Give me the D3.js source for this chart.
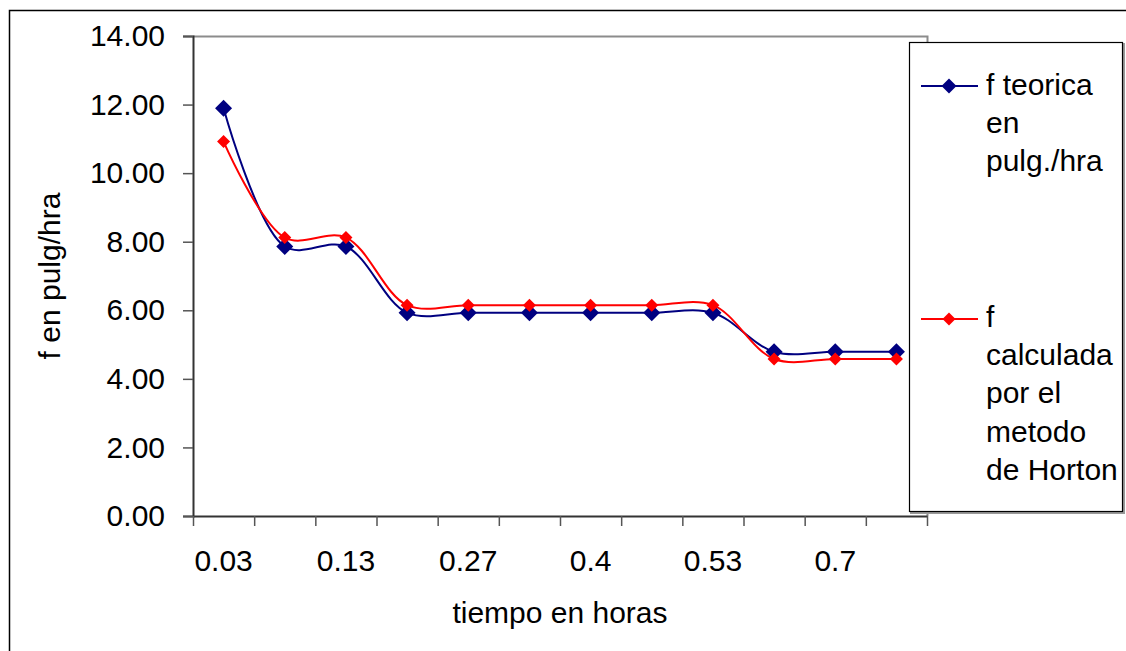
<!DOCTYPE html>
<html>
<head>
<meta charset="utf-8">
<script src="https://cdn.jsdelivr.net/npm/d3@7"></script>
<style>
  html, body { margin: 0; padding: 0; background: #fff; }
  svg { display: block; font-family: "Liberation Sans", Arial, sans-serif; }
</style>
</head>
<body>
<svg id="chart" width="1126" height="651"></svg>
<script>
// ---- data ----
const categories = ["0.03", "0.08", "0.13", "0.2", "0.27", "0.33", "0.4", "0.47", "0.53", "0.62", "0.7", "0.78"];
const fTeorica   = [11.89, 7.86, 7.86, 5.93, 5.93, 5.93, 5.93, 5.93, 5.93, 4.79, 4.79, 4.79];
const fHorton    = [10.92, 8.12, 8.12, 6.15, 6.15, 6.15, 6.15, 6.15, 6.15, 4.58, 4.58, 4.58];
const yTicks     = [0, 2, 4, 6, 8, 10, 12, 14];
const seriesNames = [["f teorica", "en", "pulg./hra"], ["f", "calculada", "por el", "metodo", "de Horton"]];
const xTitle = "tiempo en horas";
const yTitle = "f en pulg/hra";

// ---- layout ----
const svg = d3.select("#chart");
const pL = 193, pR = 927, pT = 36, pB = 516;
const FS = 30;

svg.append("rect").attr("x", 9.5).attr("y", 10.5).attr("width", 1200).attr("height", 700)
  .attr("fill", "#fff").attr("stroke", "#000").attr("stroke-width", 1.5);

const x = d3.scaleBand().domain(categories).range([pL, pR]).padding(0);
const xb = d3.scaleLinear().domain([0, categories.length]).range([pL, pR]);
const y = d3.scaleLinear().domain([0, 14]).range([pB, pT]);

// plot area border (top & right, gray)
svg.append("path").attr("d", `M${pL},${pT + 0.5}H${pR + 0.5}V${pB}`)
  .attr("fill", "none").attr("stroke", "#8c8c8c").attr("stroke-width", 2);

// y axis
const yAxis = svg.append("g").attr("transform", `translate(${pL},0)`)
  .call(d3.axisLeft(y).tickValues(yTicks).tickFormat(d3.format(".2f")).tickSize(10).tickPadding(18));
yAxis.select(".domain").attr("stroke", "#333").attr("stroke-width", 2);
yAxis.selectAll(".tick line").attr("stroke", "#555").attr("stroke-width", 1.5);
yAxis.selectAll("text").attr("font-size", FS).attr("fill", "#000").attr("font-family", "Liberation Sans, Arial, sans-serif");

// x axis: boundary ticks
const xAxisTicks = svg.append("g").attr("transform", `translate(0,${pB})`)
  .call(d3.axisBottom(xb).tickValues(d3.range(categories.length + 1)).tickFormat("").tickSize(10).tickSizeOuter(0));
xAxisTicks.select(".domain").attr("stroke", "#333").attr("stroke-width", 2);
xAxisTicks.selectAll(".tick line").attr("stroke", "#555").attr("stroke-width", 1.5);

// x labels at band centers (every other)
const xLab = svg.append("g").attr("transform", `translate(0,${pB})`)
  .call(d3.axisBottom(x).tickValues(categories.filter((d, i) => i % 2 === 0)).tickSize(0).tickPadding(0));
xLab.select(".domain").remove();
xLab.selectAll("text").attr("font-size", FS).attr("fill", "#000").attr("dy", null).attr("y", 55)
  .attr("font-family", "Liberation Sans, Arial, sans-serif");

// axis titles
svg.append("text").attr("x", (pL + pR) / 2).attr("y", 623).attr("text-anchor", "middle")
  .attr("font-size", FS).text(xTitle);
svg.append("text").attr("transform", `translate(60,${(pT + pB) / 2}) rotate(-90)`)
  .attr("text-anchor", "middle").attr("font-size", FS).text(yTitle);

// lines
const cx = (d, i) => x(categories[i]) + x.bandwidth() / 2;
const line = d3.line().x((d, i) => cx(d, i)).y(d => y(d)).curve(d3.curveCatmullRom.alpha(0.5));
const series = [
  { values: fTeorica, color: "#000080", size: 17 },
  { values: fHorton, color: "#ff0000", size: 13 }
];
const diamond = s => `M0,${-s / 2}L${s / 2},0L0,${s / 2}L${-s / 2},0Z`;

series.forEach(s => {
  svg.append("path").datum(s.values).attr("d", line)
    .attr("fill", "none").attr("stroke", s.color).attr("stroke-width", 2);
});
series.forEach(s => {
  svg.append("g").selectAll("path").data(s.values).join("path")
    .attr("transform", (d, i) => `translate(${cx(d, i)},${y(d)})`)
    .attr("d", diamond(s.size)).attr("fill", s.color);
});

// legend
const lg = svg.append("g");
lg.append("rect").attr("x", 910).attr("y", 43).attr("width", 213).attr("height", 469)
  .attr("fill", "none").attr("stroke", "#999").attr("stroke-width", 2).attr("transform", "translate(1,1)");
lg.append("rect").attr("x", 909.5).attr("y", 42.5).attr("width", 213).attr("height", 469)
  .attr("fill", "#fff").attr("stroke", "#000").attr("stroke-width", 1.2);
const legY = [86, 319];
const legBase = [95, 327];
series.forEach((s, k) => {
  lg.append("line").attr("x1", 921).attr("x2", 978).attr("y1", legY[k]).attr("y2", legY[k])
    .attr("stroke", s.color).attr("stroke-width", 2);
  lg.append("path").attr("transform", `translate(949,${legY[k]})`)
    .attr("d", diamond(k === 0 ? 15 : 13)).attr("fill", s.color);
  const t = lg.append("text").attr("x", 986).attr("y", legBase[k]).attr("font-size", FS);
  seriesNames[k].forEach((ln, j) => {
    t.append("tspan").attr("x", 986).attr("dy", j === 0 ? 0 : 38.2).text(ln);
  });
});
</script>
</body>
</html>
